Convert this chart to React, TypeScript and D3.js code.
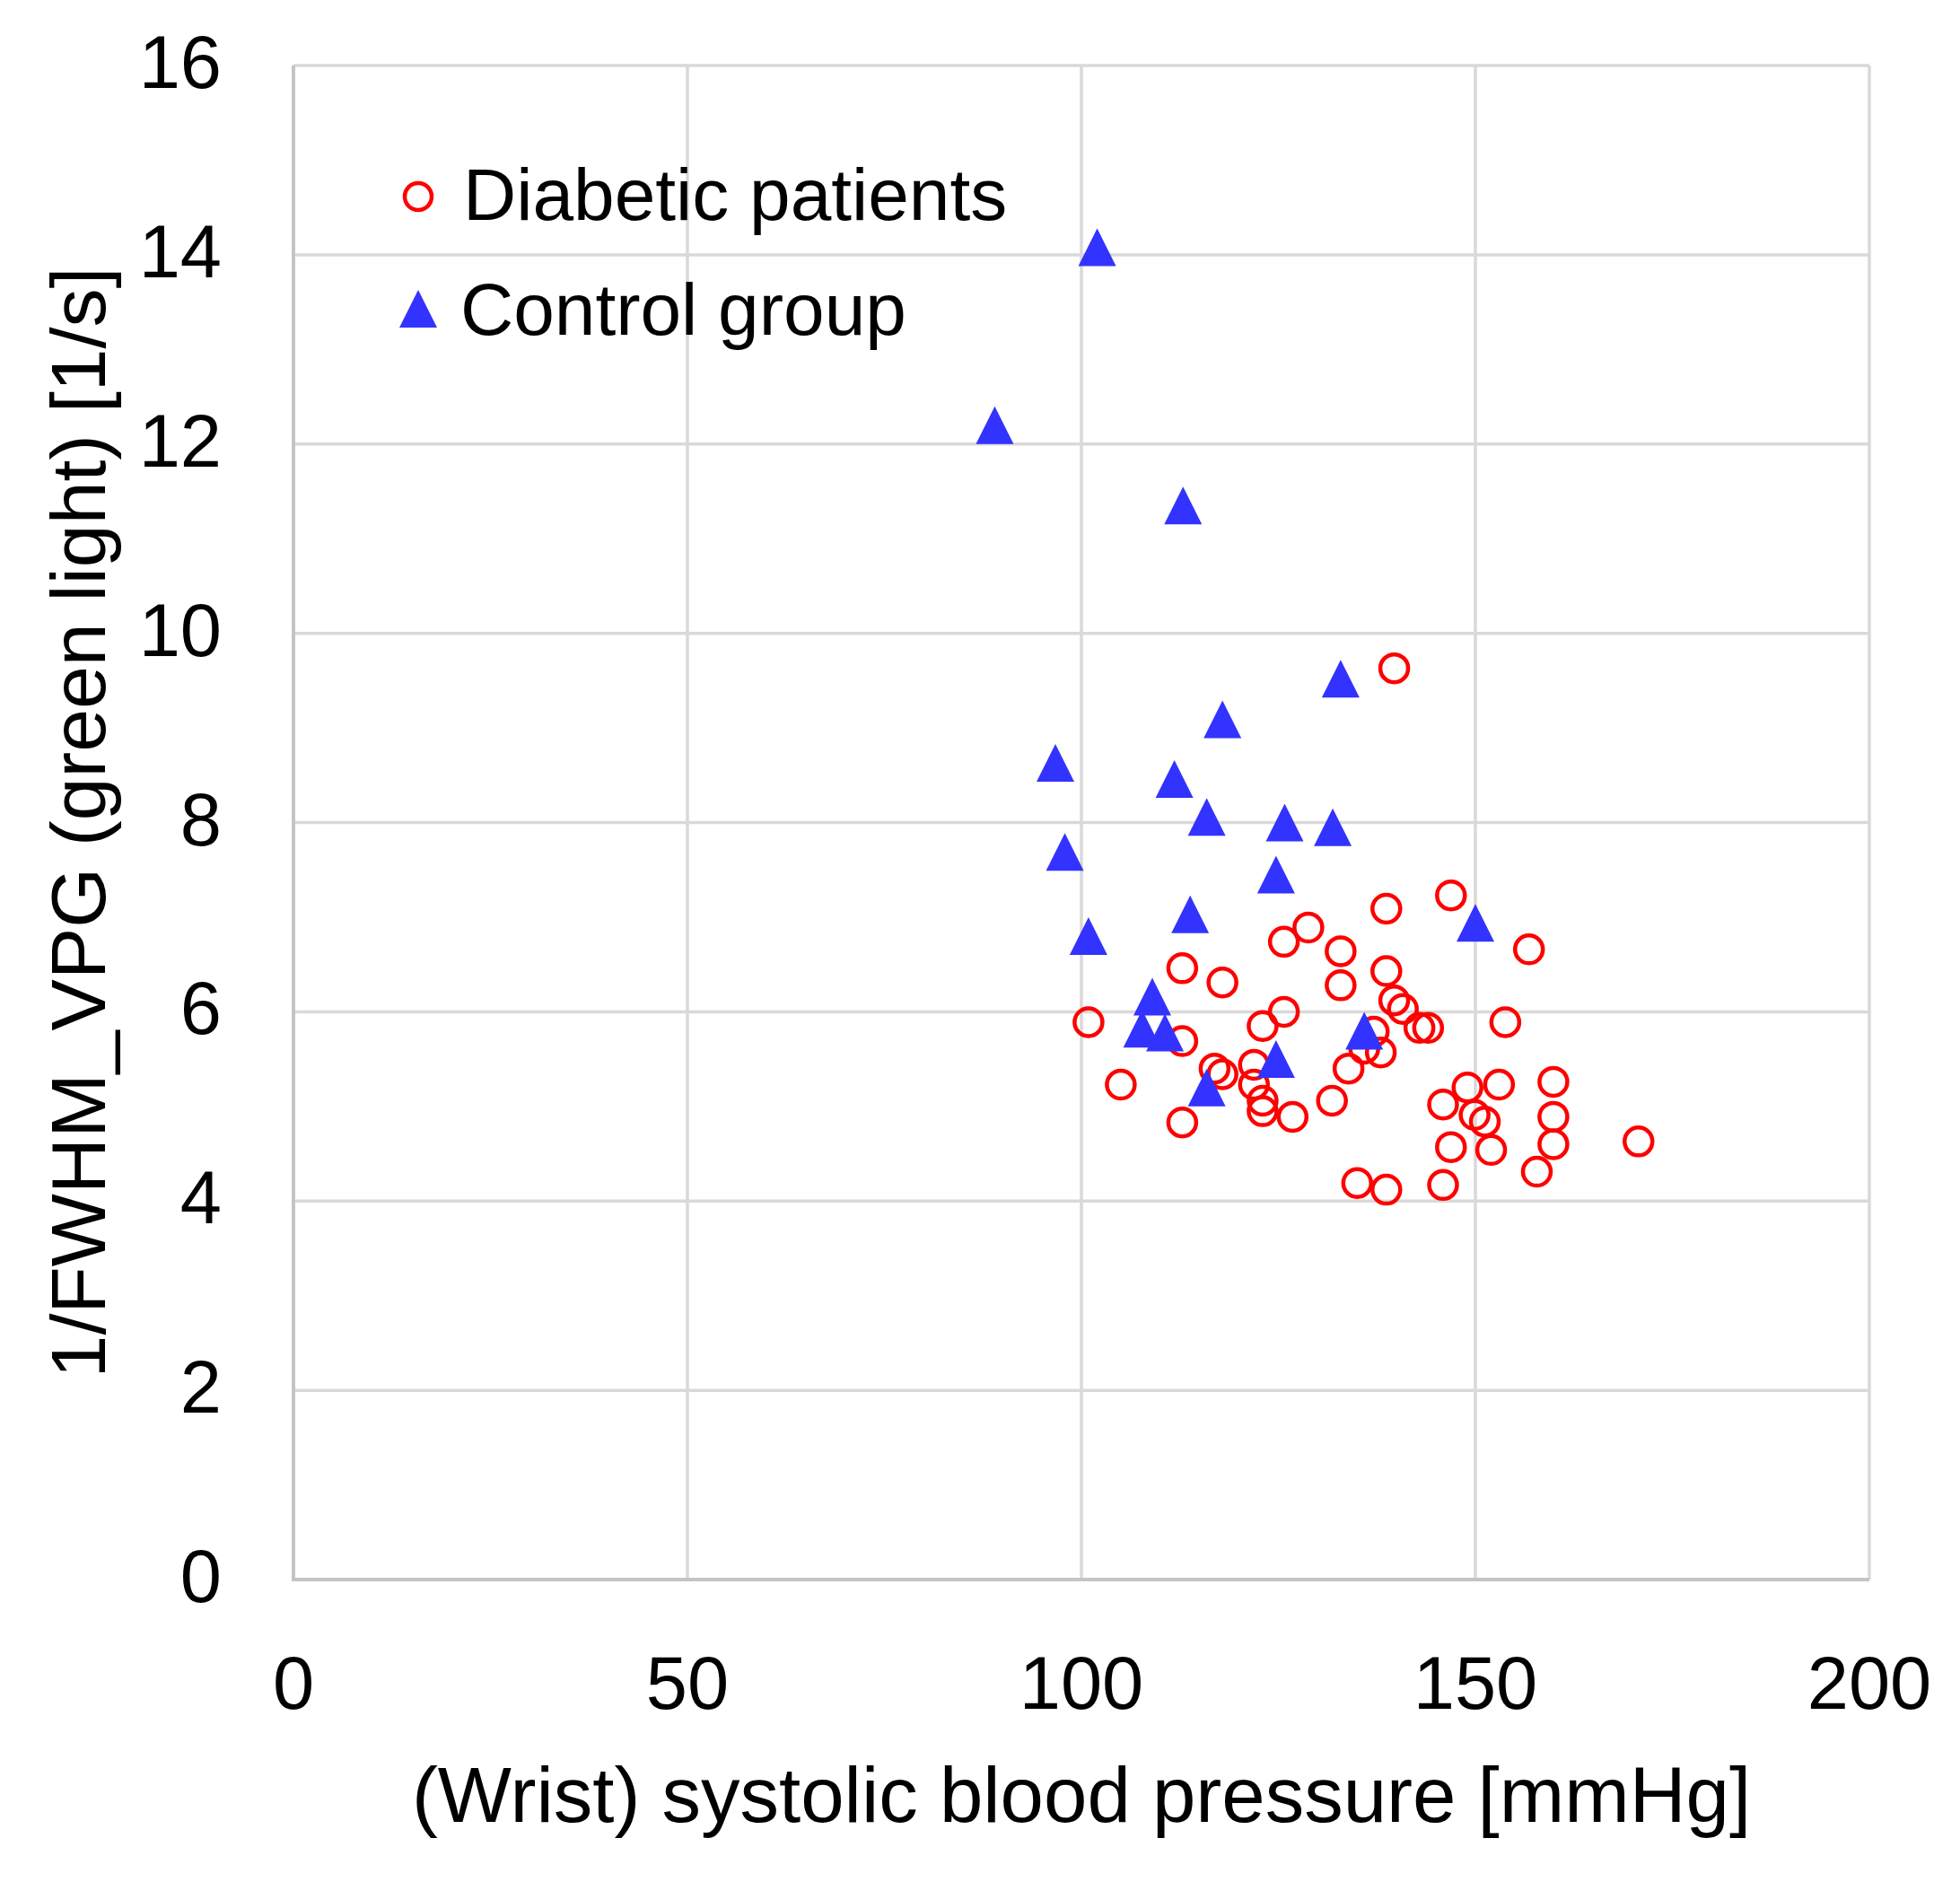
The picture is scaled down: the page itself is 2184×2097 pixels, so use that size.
import * as d3 from 'd3';
import React from 'react';

const W = 2184;
const H = 2097;
const margin = { top: 73, left: 327, right: 101, bottom: 337 };

const xTicks = [0, 50, 100, 150, 200];
const yTicks = [0, 2, 4, 6, 8, 10, 12, 14, 16];

// Diabetic patients (open red circles)
const diabeticX = [
  139.7, 146.9, 138.7, 128.8, 125.7, 156.8, 132.9, 112.8, 138.7, 117.9,
  132.9, 139.7, 140.8, 125.7, 100.9, 123.0, 153.8, 142.9, 144.0, 137.1,
  112.8, 138.0, 135.9, 133.9, 116.9, 117.9, 121.9, 121.9, 105.0, 149.0,
  153.0, 159.9, 131.8, 145.9, 123.0, 123.0, 126.8, 149.9, 151.2, 159.9,
  112.8, 146.9, 152.0, 159.9, 170.7, 157.8, 135.0, 138.7, 145.9,
];
const diabeticY = [
  9.63, 7.23, 7.09, 6.89, 6.74, 6.66, 6.64, 6.46, 6.43, 6.31,
  6.28, 6.12, 6.03, 6.0, 5.89, 5.85, 5.89, 5.83, 5.83, 5.79,
  5.69, 5.57, 5.61, 5.40, 5.40, 5.34, 5.44, 5.23, 5.23, 5.20,
  5.23, 5.26, 5.06, 5.02, 5.06, 4.95, 4.89, 4.91, 4.84, 4.89,
  4.83, 4.57, 4.54, 4.60, 4.63, 4.31, 4.19, 4.12, 4.17,
];

// Control group (filled blue triangles)
const controlX = [
  102.0, 89.0, 112.9, 132.9, 117.9, 96.7, 111.8, 115.9, 125.8, 131.9,
  97.9, 124.7, 113.8, 100.9, 150.0, 109.0, 107.7, 110.6, 135.9, 124.7,
  115.9,
];
const controlY = [
  14.08, 12.2, 11.35, 9.52, 9.09, 8.63, 8.46, 8.06, 8.0, 7.95,
  7.69, 7.45, 7.03, 6.8, 6.94, 6.16, 5.82, 5.78, 5.8, 5.5,
  5.2,
];

const font = '"Liberation Sans", Arial, Helvetica, sans-serif';
const red = '#ff0000';
const blue = '#3333ff';
const grid = '#d9d9d9';

const tri = (cx: number, cy: number, s = 42) =>
  `M${cx},${cy - s / 2}L${cx + s / 2},${cy + s / 2}L${cx - s / 2},${cy + s / 2}Z`;

const App = () => {
  const x = d3.scaleLinear().domain([0, 200]).range([margin.left, W - margin.right]);
  const y = d3.scaleLinear().domain([0, 16]).range([H - margin.bottom, margin.top]);

  const [x0, x1] = x.range();
  const [y0, y1] = y.range();

  return (
    <svg
      width={W}
      height={H}
      style={{ position: 'absolute', left: 0, top: 0, background: '#fff' }}
      fontFamily={font}
    >
      <rect x={0} y={0} width={W} height={H} fill="#fff" />

      {/* grid */}
      {yTicks.map((t) => (
        <line key={'gy' + t} x1={x0} x2={x1} y1={y(t)} y2={y(t)} stroke={grid} strokeWidth={3.5} />
      ))}
      {xTicks.map((t) => (
        <line key={'gx' + t} x1={x(t)} x2={x(t)} y1={y0} y2={y1} stroke={grid} strokeWidth={3.5} />
      ))}
      <line x1={x0} x2={x0} y1={y0 + 2} y2={y1} stroke="#c4c4c4" strokeWidth={4} />
      <line x1={x0} x2={x1} y1={y0} y2={y0} stroke="#c4c4c4" strokeWidth={4} />

      {/* tick labels */}
      {yTicks.map((t) => (
        <text key={'ty' + t} x={247} y={y(t) - 4} dy="0.35em" textAnchor="end" fontSize={83} fill="#000">
          {t}
        </text>
      ))}
      {xTicks.map((t) => (
        <text key={'tx' + t} x={x(t)} y={1904} textAnchor="middle" fontSize={83} fill="#000">
          {t}
        </text>
      ))}

      {/* axis titles */}
      <text x={(x0 + x1) / 2} y={2030} textAnchor="middle" fontSize={87} fill="#000">
        (Wrist) systolic blood pressure [mmHg]
      </text>
      <text
        transform={`translate(117, ${(y0 + y1) / 2}) rotate(-90)`}
        textAnchor="middle"
        fontSize={86}
        fill="#000"
      >
        1/FWHM_VPG (green light) [1/s]
      </text>

      {/* diabetic */}
      {diabeticX.map((v, i) => (
        <circle
          key={'d' + i}
          cx={x(v)}
          cy={y(diabeticY[i])}
          r={15.5}
          fill="none"
          stroke={red}
          strokeWidth={4.5}
        />
      ))}

      {/* control */}
      {controlX.map((v, i) => (
        <path key={'c' + i} d={tri(x(v), y(controlY[i]))} fill={blue} />
      ))}

      {/* legend */}
      <circle cx={466} cy={219} r={15} fill="none" stroke={red} strokeWidth={4.5} />
      <text x={516} y={245} fontSize={82} fill="#000">
        Diabetic patients
      </text>
      <path d={tri(466, 344)} fill={blue} />
      <text x={513} y={373} fontSize={82} fill="#000">
        Control group
      </text>
    </svg>
  );
};

export default App;
